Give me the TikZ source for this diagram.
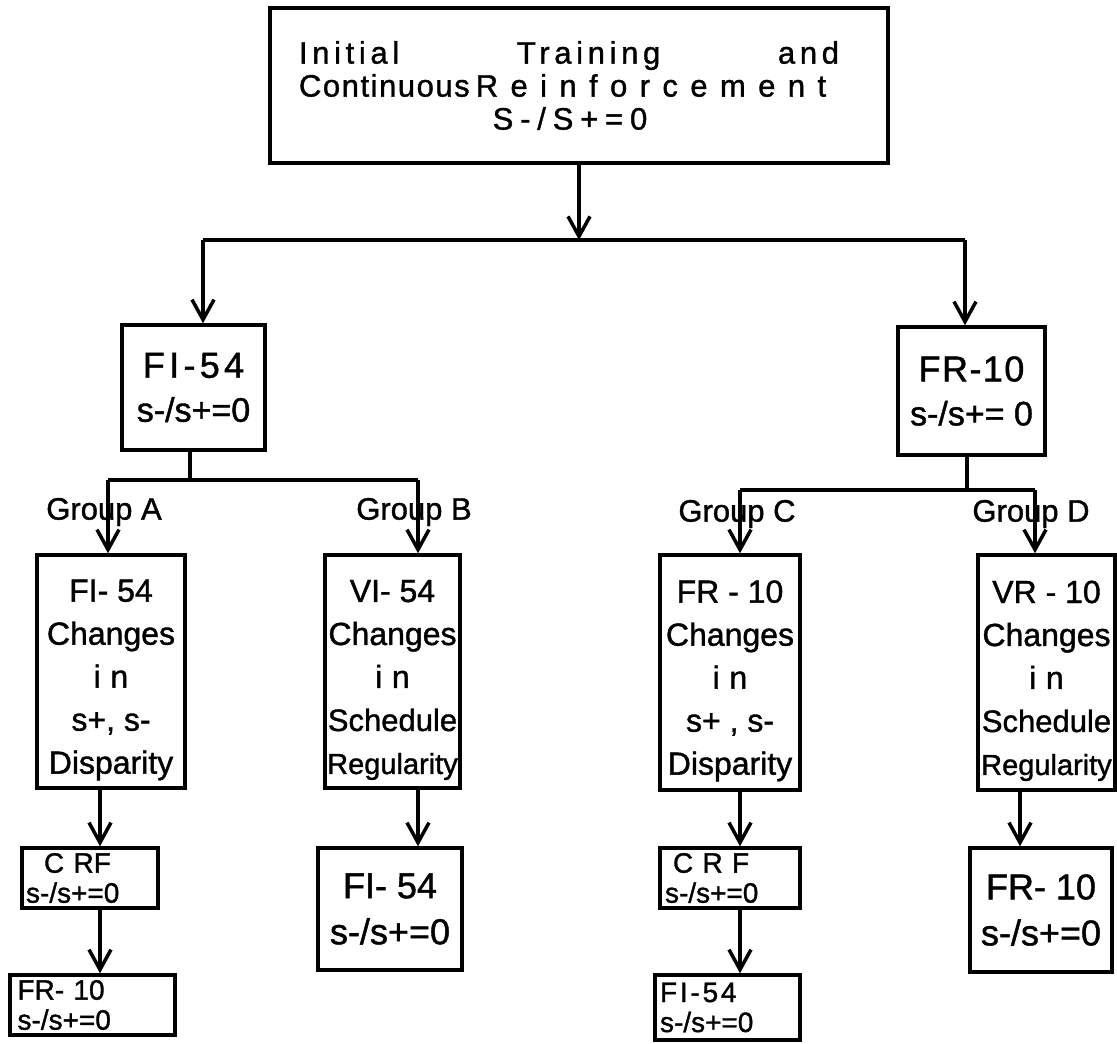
\documentclass[tikz,border=0pt]{standalone}
\usepackage{fontspec}
\setmainfont{Liberation Sans}[FakeBold=1.2]
\usetikzlibrary{arrows.meta}
\newcommand\myfbig{\fontsize{32}{43}\selectfont}
\newcommand\myfmid{\fontsize{36}{44}\selectfont}
\newcommand\myfsmall{\fontsize{28}{30}\selectfont}
\newcommand\myfsched{\fontsize{31}{43}\selectfont}
\newcommand\myfreg{\fontsize{29}{43}\selectfont}
\newcommand\mystrut{\rule{0pt}{39pt}}
\begin{document}
\begin{tikzpicture}[x=1pt,y=-1pt,
  box/.style={draw,line width=3.5pt,inner sep=0pt,align=center},
  sbox/.style={draw,line width=3.5pt,inner sep=0pt,align=left},
  conn/.style={line width=3.5pt},
  arr/.style={line width=3.5pt,-{Straight Barb[length=20pt,width=22pt]}},
  lbl/.style={font=\fontsize{31}{31}\selectfont,inner sep=0pt}]
\useasboundingbox (0,0) rectangle (1117,1044);

% boxes
\node[box,minimum width=618pt,minimum height=155pt,font=\fontsize{31}{33}\selectfont] (top) at (579,85.5)
  {\makebox[560pt][l]{\makebox[540pt][s]{\addfontfeature{LetterSpace=15}Initial\hfill Training\hfill and}}\\
   \makebox[560pt][l]{{\addfontfeature{LetterSpace=5}Continuous}\hspace{6pt}{\addfontfeature{LetterSpace=40}Reinforcement}}\\
   \makebox[560pt]{\hspace*{-18pt}{\addfontfeature{LetterSpace=22}S-/S+=0}}};
\node[box,minimum width=143pt,minimum height=125pt,font=\myfmid] (fi) at (193.5,387.5)
  {{\addfontfeature{LetterSpace=12}FI-54}\\{\fontsize{34}{40}\selectfont s-/s+=0}};
\node[box,minimum width=147pt,minimum height=128pt,font=\myfmid] (fr) at (971.5,391)
  {{\addfontfeature{LetterSpace=4}FR-10}\\{\fontsize{34}{40}\selectfont s-/s+= 0}};

\node[box,minimum width=148pt,minimum height=233pt,font=\myfbig] (A) at (111,671.5)
  {\mystrut FI- 54\\Changes\\{\addfontfeature{LetterSpace=30}in}\\s+, s-\\Disparity};
\node[box,minimum width=135pt,minimum height=233pt,font=\myfbig] (B) at (392.5,671.5)
  {\mystrut VI- 54\\Changes\\{\addfontfeature{LetterSpace=30}in}\\{\myfsched Schedule}\\{\myfreg Regularity}};
\node[box,minimum width=140pt,minimum height=235pt,font=\myfbig] (C) at (730,672.5)
  {\mystrut FR - 10\\Changes\\{\addfontfeature{LetterSpace=30}in}\\s+ , s-\\Disparity};
\node[box,minimum width=137pt,minimum height=235pt,font=\myfbig] (D) at (1046.5,672.5)
  {\mystrut VR - 10\\Changes\\{\addfontfeature{LetterSpace=30}in}\\{\myfsched Schedule}\\{\myfreg Regularity}};

\node[sbox,minimum width=136pt,minimum height=60pt,text width=128pt,font=\myfsmall] (crfA) at (90,878)
  {\hspace*{18pt}C RF\\s-/s+=0};
\node[sbox,minimum width=165pt,minimum height=60pt,text width=150pt,font=\myfsmall] (frA) at (92.5,1005)
  {FR- 10\\s-/s+=0};
\node[box,minimum width=144pt,minimum height=122pt,font=\myfmid] (fiB) at (390,909)
  {FI- 54\\[2pt]s-/s+=0};
\node[sbox,minimum width=140pt,minimum height=60pt,text width=130pt,font=\myfsmall] (crfC) at (730,878)
  {\hspace*{8pt}C R F\\s-/s+=0};
\node[sbox,minimum width=145pt,minimum height=65pt,text width=135pt,font=\myfsmall] (fiC) at (727.5,1007.5)
  {{\addfontfeature{LetterSpace=10}FI-54}\\s-/s+=0};
\node[box,minimum width=142pt,minimum height=124pt,font=\myfmid] (frD) at (1041,910)
  {FR- 10\\[2pt]s-/s+=0};

% junction coordinates
\coordinate (j1) at (579,240);
\coordinate (jL) at (203,240);
\coordinate (jR) at (965,240);
\coordinate (fiS) at (190,480);
\coordinate (gA) at (108,480);
\coordinate (gB) at (418,480);
\coordinate (frS) at (967,490);
\coordinate (gC) at (740,490);
\coordinate (gD) at (1035,490);
\coordinate (xA) at (100,0);
\coordinate (xB) at (418,0);
\coordinate (xC) at (740,0);
\coordinate (xD) at (1020,0);

% connectors
\draw[arr] (top.south) -- (j1);
\draw[conn] (jL) -- (jR);
\draw[arr] (jL) -- (jL |- fi.north);
\draw[arr] (jR) -- (jR |- fr.north);

\draw[conn] (fiS |- fi.south) -- (fiS);
\draw[conn] (gA) -- (gB);
\draw[arr] (gA) -- (gA |- A.north);
\draw[arr] (gB) -- (gB |- B.north);

\draw[conn] (frS |- fr.south) -- (frS);
\draw[conn] (gC) -- (gD);
\draw[arr] (gC) -- (gC |- C.north);
\draw[arr] (gD) -- (gD |- D.north);

\draw[arr] (xA |- A.south) -- (xA |- crfA.north);
\draw[arr] (xA |- crfA.south) -- (xA |- frA.north);
\draw[arr] (xB |- B.south) -- (xB |- fiB.north);
\draw[arr] (xC |- C.south) -- (xC |- crfC.north);
\draw[arr] (xC |- crfC.south) -- (xC |- fiC.north);
\draw[arr] (xD |- D.south) -- (xD |- frD.north);

% group labels
\node[lbl] (labA) at (104,512) {Group A};
\node[lbl] (labB) at (414,512) {Group B};
\node[lbl] (labC) at (737,514) {Group C};
\node[lbl] (labD) at (1031,514) {Group D};
\end{tikzpicture}
\end{document}
